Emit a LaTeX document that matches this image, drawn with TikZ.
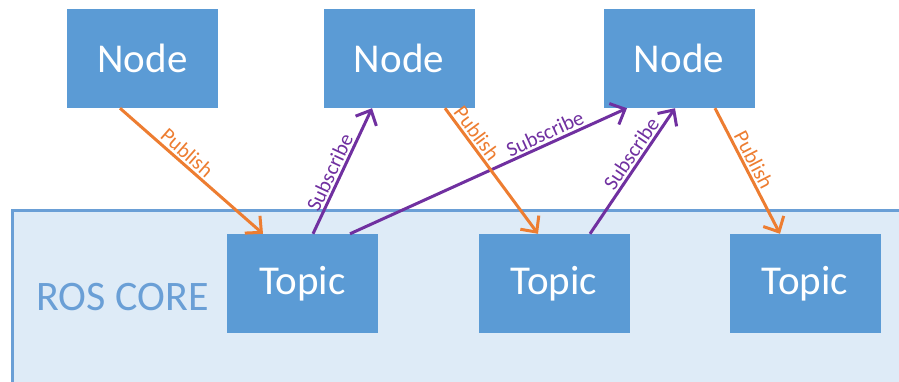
\documentclass[tikz,border=0pt]{standalone}
\usepackage{fontspec}
\setmainfont{Carlito}
\usetikzlibrary{arrows.meta}
\definecolor{boxblue}{HTML}{5B9BD5}
\definecolor{coreFill}{HTML}{DEEBF7}
\definecolor{coreLine}{HTML}{6A9FD6}
\definecolor{pubOrange}{HTML}{ED7D31}
\definecolor{subPurple}{HTML}{7030A0}
\tikzset{
  rosbox/.style={fill=boxblue, text=white, minimum width=151pt, minimum height=99pt,
    inner sep=0pt, font=\fontsize{41}{41}\selectfont},
  flow/.style={line width=3pt, -{Straight Barb[length=12pt,width=23pt,line width=3pt]}},
  pub/.style={flow, draw=pubOrange},
  sub/.style={flow, draw=subPurple},
  pubtxt/.style={sloped, above, inner sep=2pt, text=pubOrange, font=\fontsize{21}{21}\selectfont},
  subtxt/.style={sloped, above, inner sep=2pt, text=subPurple, font=\fontsize{21}{21}\selectfont}
}
\begin{document}
\begin{tikzpicture}[x=1pt,y=-1pt]
\useasboundingbox (0,0) rectangle (899,381);
\clip (0,0) rectangle (899,381);
\draw[fill=coreFill, draw=coreLine, line width=3pt] (12,210) rectangle (940,400);
\node[text=coreLine, font=\fontsize{42}{42}\selectfont, anchor=center] (core) at (122.5,297) {ROS CORE};
\node[rosbox] (n1) at (142.5,58.5) {Node};
\node[rosbox] (n2) at (399,58.5) {Node};
\node[rosbox] (n3) at (679,58.5) {Node};
\node[rosbox] (t1) at (302.5,283.5) {Topic};
\node[rosbox] (t2) at (554,283.5) {Topic};
\node[rosbox] (t3) at (805,283.5) {Topic};
\draw[pub] ([xshift=-22.5pt]n1.south) -- node[pubtxt, pos=0.42] {Publish} ([xshift=-39.5pt]t1.north);
\draw[sub] ([xshift=10.5pt]t1.north) -- node[subtxt, pos=0.45] {Subscribe} ([xshift=-27pt]n2.south);
\draw[sub] ([xshift=47.5pt]t1.north) -- node[subtxt, pos=0.72] {Subscribe} ([xshift=-52pt]n3.south);
\draw[pub] ([xshift=46pt]n2.south) -- node[pubtxt, pos=0.25] {Publish} ([xshift=-16pt]t2.north);
\draw[sub] ([xshift=36pt]t2.north) -- node[subtxt, pos=0.59] {Subscribe} ([xshift=-4pt]n3.south);
\draw[pub] ([xshift=36pt]n3.south) -- node[pubtxt, pos=0.45] {Publish} ([xshift=-25pt]t3.north);
\end{tikzpicture}
\end{document}
